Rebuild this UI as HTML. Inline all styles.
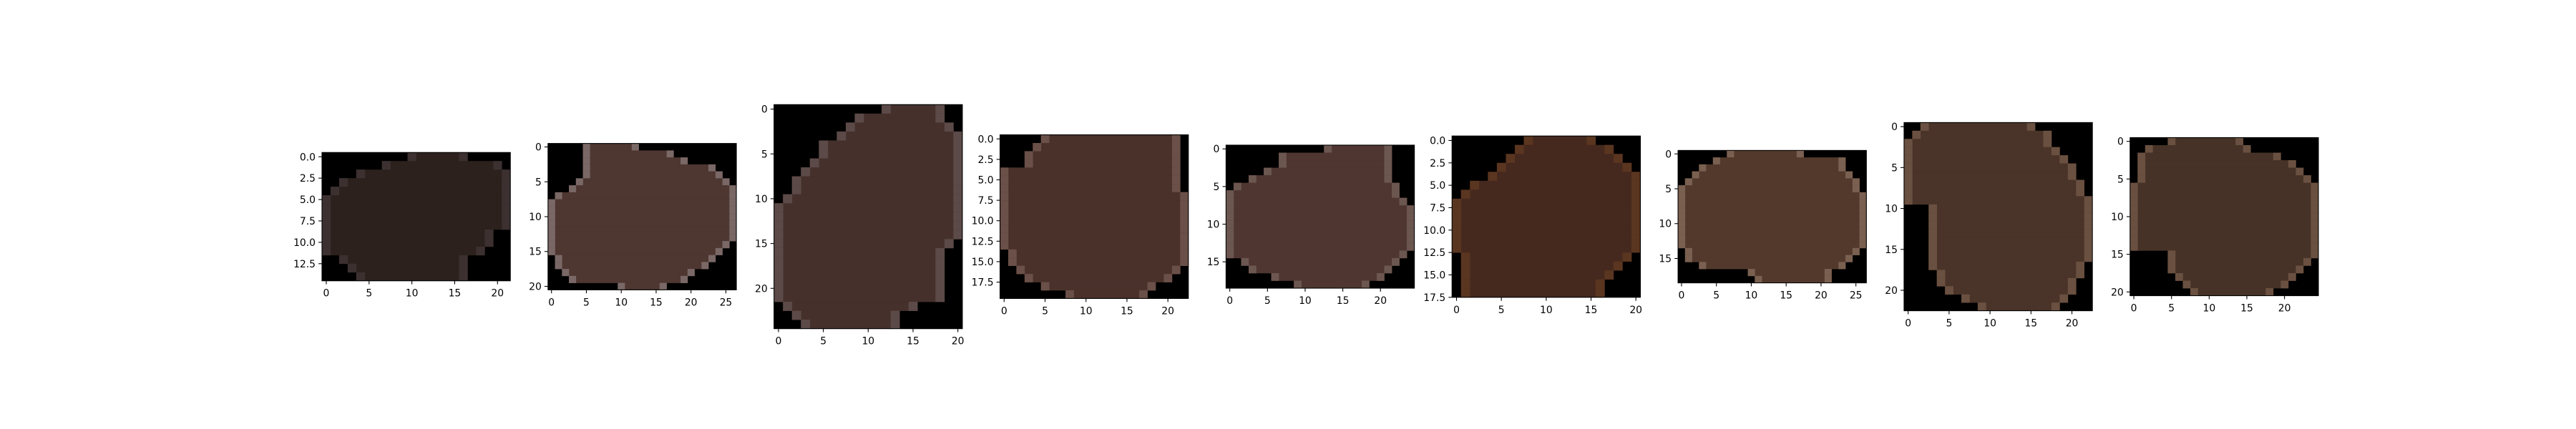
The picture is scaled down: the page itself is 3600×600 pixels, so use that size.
<!DOCTYPE html>
<html><head><meta charset="utf-8"><style>
html,body{margin:0;padding:0;background:#fff;}
svg{display:block;}
</style></head><body>
<svg id="fig" width="3600" height="600" xmlns="http://www.w3.org/2000/svg"></svg>
<script>
// image sizes (columns x rows)
const widths = [22, 27, 21, 23, 25, 21, 27, 23, 25];
const heights = [15, 21, 25, 20, 19, 18, 19, 23, 21];
// y tick step and decimals per panel
const yStep = [2.5, 5, 5, 2.5, 5, 2.5, 5, 5, 5];
const yDec = [1, 0, 0, 1, 0, 1, 0, 0, 0];
// main tone and rim tone per panel
const tones = ["#2c211c","#4e3631","#45302c","#4a322b","#4f3630","#45291e","#52392c","#4a3328","#463227"];
const rims = ["#3c3030","#7a6866","#5c4a48","#6a5048","#6c5650","#5a3520","#7a6050","#6a5040","#6a5040"];
// row spans [start,end] of the object mask, per panel
const spans1 = [[10,16],[7,20],[4,21],[2,21],[1,21],[0,21],[0,21],[0,21],[0,21],[0,19],[0,19],[0,18],[2,16],[3,16],[4,16]];
const spans2 = [[5,12],[5,17],[5,19],[5,23],[5,24],[4,25],[3,26],[1,26],[0,26],[0,26],[0,26],[0,26],[0,26],[0,26],[0,25],[0,24],[1,23],[1,22],[2,20],[3,19],[10,16]];
const spans3 = [[12,18],[9,18],[8,19],[7,20],[5,20],[5,20],[4,20],[3,20],[2,20],[2,20],[1,20],[0,20],[0,20],[0,20],[0,20],[0,19],[0,18],[0,18],[0,18],[0,18],[0,18],[0,18],[1,15],[2,13],[3,13]];
const spans4 = [[5,21],[4,21],[3,21],[3,21],[0,21],[0,21],[0,21],[0,22],[0,22],[0,22],[0,22],[0,22],[0,22],[0,22],[1,22],[1,22],[2,21],[3,20],[5,18],[8,17]];
const spans5 = [[13,21],[7,21],[7,21],[5,21],[3,21],[1,22],[0,22],[0,23],[0,24],[0,24],[0,24],[0,24],[0,24],[0,24],[0,23],[2,22],[3,21],[6,20],[9,18]];
const spans6 = [[8,15],[7,17],[6,18],[5,19],[4,20],[2,20],[1,20],[0,20],[0,20],[0,20],[0,20],[0,20],[0,20],[1,19],[1,18],[1,17],[1,16],[1,16]];
const spans7 = [[7,17],[5,23],[3,23],[2,24],[1,25],[0,25],[0,26],[0,26],[0,26],[0,26],[0,26],[0,26],[0,26],[0,26],[1,25],[1,24],[3,23],[10,21],[11,21]];
const spans8 = [[2,15],[1,17],[0,17],[0,18],[0,19],[0,20],[0,20],[0,21],[0,21],[0,22],[3,22],[3,22],[3,22],[3,22],[3,22],[3,22],[3,22],[3,21],[4,21],[4,20],[5,20],[7,19],[9,18]];
const spans9 = [[5,14],[2,15],[1,19],[1,21],[1,22],[1,23],[0,24],[0,24],[0,24],[0,24],[0,24],[0,24],[0,24],[0,24],[0,24],[5,24],[5,23],[5,22],[6,21],[7,20],[8,18]];
const allSpans = [spans1,spans2,spans3,spans4,spans5,spans6,spans7,spans8,spans9];

const NS = "http://www.w3.org/2000/svg";
const svg = document.getElementById('fig');
function mk(tag, attrs, parent){
  const e = document.createElementNS(NS, tag);
  for (const k in attrs) e.setAttribute(k, attrs[k]);
  parent.appendChild(e);
  return e;
}
const figW = 3600, figH = 600;
const L = 0.125*figW, R = 0.9*figW, T = (1-0.88)*figH, B = (1-0.11)*figH;
const n = widths.length, ws = 0.2;
const axW = (R-L)/(n+(n-1)*ws), gap = axW*ws, axH = B-T;

for (let i=0;i<n;i++){
  const W = widths[i], H = heights[i];
  const s = Math.min(axW/W, axH/H);
  const pw = W*s, ph = H*s;
  const x0 = L + i*(axW+gap) + (axW-pw)/2;
  const y0 = T + (axH-ph)/2;
  const xs = v => x0 + (v+0.5)*s;
  const ys = v => y0 + (v+0.5)*s;
  const g = mk('g', {}, svg);
  
  
  const bg = mk('rect', {x:x0, y:y0, width:pw, height:ph, fill:'#000'}, g);
  
  
  const sp = allSpans[i];
  for (let r=0;r<sp.length;r++){
    const a = sp[r][0], b = sp[r][1];
    const row = mk('rect', {x:xs(a-0.5), y:ys(r-0.5), width:(b-a+1)*s+0.3, height:s+0.3, fill:tones[i]}, g);
    
    
    const e1 = mk('rect', {x:xs(a-0.5), y:ys(r-0.5), width:s+0.3, height:s+0.3, fill:rims[i]}, g);
    
    
    const e2 = mk('rect', {x:xs(b-0.5), y:ys(r-0.5), width:s+0.3, height:s+0.3, fill:rims[i]}, g);
    
    
  }
  const frame = mk('rect', {x:x0, y:y0, width:pw, height:ph, fill:'none', stroke:'#000', 'stroke-width':1.1}, g);
  
  
  for (let v=0; v<=W-0.5; v+=5){
    const x = xs(v);
    const t = mk('line', {x1:x, y1:y0+ph, x2:x, y2:y0+ph+4.9, stroke:'#000', 'stroke-width':1.1}, g);
    
    
    const tx = mk('text', {x:x, y:y0+ph+22, 'font-family':'DejaVu Sans, Liberation Sans, sans-serif', 'font-size':13.9, 'text-anchor':'middle', fill:'#000'}, g);
    tx.textContent = String(v);
    
    
  }
  for (let v=0; v<=H-0.5+1e-9; v+=yStep[i]){
    const y = ys(v);
    const t = mk('line', {x1:x0, y1:y, x2:x0-4.9, y2:y, stroke:'#000', 'stroke-width':1.1}, g);
    
    
    const tx = mk('text', {x:x0-9, y:y+5, 'font-family':'DejaVu Sans, Liberation Sans, sans-serif', 'font-size':13.9, 'text-anchor':'end', fill:'#000'}, g);
    tx.textContent = v.toFixed(yDec[i]);
    
    
  }
}
</script>
</body></html>
